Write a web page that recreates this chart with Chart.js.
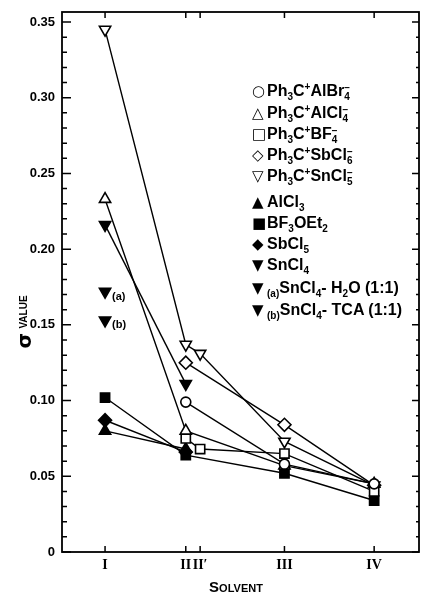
<!DOCTYPE html>
<html>
<head>
<meta charset="utf-8">
<script src="https://cdn.jsdelivr.net/npm/chart.js"></script>
<style>
  body { margin: 0; background: #fff; overflow: hidden; }
  #wrap { position: relative; width: 421px; height: 595px; }
  canvas { display: block; }
  .lbl { position: absolute; font-family: 'Liberation Sans', Arial, sans-serif; font-weight: bold; color: #000; white-space: nowrap; }
  #legend { left: 252px; top: 0; font-size: 16px; }
  #legend .row { position: absolute; left: 0; line-height: 18px; }
  #legend .mk { display: inline-block; width: 15px; font-family: 'DejaVu Sans', sans-serif; font-size: 15px; font-weight: normal; }
  sub, sup { font-size: 10px; line-height: 0; }
  .st { display: inline-block; vertical-align: middle; font-size: 10px; line-height: 9px; }
  #ytitle { left: -26px; top: 308px; width: 100px; height: 28px; line-height: 28px; text-align: center; transform: rotate(-90deg); }
  #xtitle { left: 186px; top: 578px; width: 100px; text-align: center; font-size: 15px; font-variant: small-caps; }
</style>
</head>
<body>
<div id="wrap">
  <canvas id="c" width="421" height="595"></canvas>
  <div id="legend" class="lbl">
    <div class="row" style="top:82px"><span class="mk">○</span>Ph<sub>3</sub>C<sup>+</sup>AlBr<span class="st">−<br>4</span></div>
    <div class="row" style="top:104px"><span class="mk">△</span>Ph<sub>3</sub>C<sup>+</sup>AlCl<span class="st">−<br>4</span></div>
    <div class="row" style="top:125px"><span class="mk">□</span>Ph<sub>3</sub>C<sup>+</sup>BF<span class="st">−<br>4</span></div>
    <div class="row" style="top:146px"><span class="mk">◇</span>Ph<sub>3</sub>C<sup>+</sup>SbCl<span class="st">−<br>6</span></div>
    <div class="row" style="top:167px"><span class="mk">▽</span>Ph<sub>3</sub>C<sup>+</sup>SnCl<span class="st">−<br>5</span></div>
    <div class="row" style="top:193px"><span class="mk">▲</span>AlCl<sub>3</sub></div>
    <div class="row" style="top:214px"><span class="mk">■</span>BF<sub>3</sub>OEt<sub>2</sub></div>
    <div class="row" style="top:235px"><span class="mk">◆</span>SbCl<sub>5</sub></div>
    <div class="row" style="top:256px"><span class="mk">▼</span>SnCl<sub>4</sub></div>
    <div class="row" style="top:279px"><span class="mk">▼</span><sub>(a)</sub>SnCl<sub>4</sub>- H<sub>2</sub>O (1:1)</div>
    <div class="row" style="top:301px"><span class="mk">▼</span><sub>(b)</sub>SnCl<sub>4</sub>- TCA (1:1)</div>
  </div>
  <div id="ytitle" class="lbl"><span style="font-size:20px;font-family:'DejaVu Sans',sans-serif">σ</span> <span style="font-size:10px;vertical-align:4px">VALUE</span></div>
  <div id="xtitle" class="lbl">Solvent</div>
</div>
<script>
// solvent positions on the x axis and their labels
const solventPos = [1, 1.9, 2.06, 3, 4];
const solventLabels = ['I', 'II', 'II\u2032', 'III', 'IV'];
const yTickValues = [0, 0.05, 0.10, 0.15, 0.20, 0.25, 0.30, 0.35];

// sigma values at I, II, II', III, IV (null = not measured)
const alBr4  = [null, 0.099, null, 0.058, 0.045];
const alCl4  = [0.233, 0.080, null, 0.057, 0.045];
const bf4    = [null, 0.075, 0.068, 0.065, 0.040];
const sbCl6  = [null, 0.125, null, 0.084, 0.044];
const snCl5  = [0.345, 0.137, 0.131, 0.073, 0.044];
const alCl3  = [0.080, 0.068, null, null, null];
const bf3OEt2 = [0.102, 0.064, null, 0.052, 0.034];
const sbCl5  = [0.087, 0.066, null, null, null];
const snCl4  = [0.216, 0.111, null, null, null];
const snCl4H2O = [0.172, null, null, null, null];
const snCl4TCA = [0.153, null, null, null, null];

function pts(vals) {
  return solventPos.map((x, i) => ({ x: x, y: vals[i] })).filter(p => p.y !== null);
}

const series = [
  { label: 'Ph3C+AlBr4-', vals: alBr4, style: 'circle', r: 5, fill: false },
  { label: 'Ph3C+AlCl4-', vals: alCl4, style: 'triangle', r: 6.5, fill: false },
  { label: 'Ph3C+BF4-', vals: bf4, style: 'rect', r: 6.5, fill: false },
  { label: 'Ph3C+SbCl6-', vals: sbCl6, style: 'rectRot', r: 6.5, fill: false },
  { label: 'Ph3C+SnCl5-', vals: snCl5, style: 'triangle', r: 6.5, fill: false, rot: 180 },
  { label: 'AlCl3', vals: alCl3, style: 'triangle', r: 6.5, fill: true },
  { label: 'BF3OEt2', vals: bf3OEt2, style: 'rect', r: 6.5, fill: true },
  { label: 'SbCl5', vals: sbCl5, style: 'rectRot', r: 6.5, fill: true },
  { label: 'SnCl4', vals: snCl4, style: 'triangle', r: 6.5, fill: true, rot: 180 },
  { label: '(a)', vals: snCl4H2O, style: 'triangle', r: 6.5, fill: true, rot: 180 },
  { label: '(b)', vals: snCl4TCA, style: 'triangle', r: 6.5, fill: true, rot: 180 },
];

const datasets = [];
series.forEach(s => {
  // line underneath
  datasets.push({ label: s.label + ' line', data: pts(s.vals), showLine: true, pointRadius: 0,
    borderColor: '#000', borderWidth: 1.4, order: 2 });
  // markers on top
  datasets.push({ label: s.label, data: pts(s.vals), showLine: false, pointStyle: s.style,
    pointRotation: s.rot || 0, pointRadius: s.r, backgroundColor: s.fill ? '#000' : '#fff',
    borderColor: '#000', pointBorderWidth: 1.6, order: 1 });
});

const frameTicks = {
  id: 'frameTicks',
  afterDraw(chart) {
    const { ctx, chartArea: a, scales: { x, y } } = chart;
    ctx.save();
    ctx.strokeStyle = '#000';
    ctx.lineWidth = 1.8;
    ctx.strokeRect(a.left, a.top, a.right - a.left, a.bottom - a.top);
    ctx.lineWidth = 1.5;
    ctx.beginPath();
    for (let k = 0; k <= 35; k++) {
      const py = y.getPixelForValue(k / 100);
      const major = k % 5 === 0;
      ctx.moveTo(a.left, py); ctx.lineTo(a.left + (major ? 9 : 5), py);
      ctx.moveTo(a.right, py); ctx.lineTo(a.right - (major ? 7 : 3), py);
    }
    solventPos.forEach(v => {
      const px = x.getPixelForValue(v);
      ctx.moveTo(px, a.top); ctx.lineTo(px, a.top + 6);
      ctx.moveTo(px, a.bottom); ctx.lineTo(px, a.bottom - 6);
    });
    ctx.stroke();
    // (a) / (b) tags beside the single points
    ctx.fillStyle = '#000';
    ctx.font = 'bold 11px "Liberation Sans", Arial, sans-serif';
    ctx.textBaseline = 'middle';
    chart.data.datasets.forEach((ds, i) => {
      if (ds.label === '(a)' || ds.label === '(b)') {
        const p = chart.getDatasetMeta(i).data[0];
        ctx.fillText(ds.label, p.x + 7, p.y + 5);
      }
    });
    ctx.restore();
  }
};

new Chart(document.getElementById('c'), {
  type: 'scatter',
  data: { datasets: datasets },
  options: {
    responsive: false,
    animation: false,
    layout: { autoPadding: false, padding: { top: 12, right: 2, left: 0, bottom: 0 } },
    plugins: { legend: { display: false }, tooltip: { enabled: false } },
    scales: {
      x: {
        type: 'linear', min: 0.52, max: 4.50,
        afterBuildTicks: (scale) => { scale.ticks = solventPos.map(v => ({ value: v })); },
        afterFit: (scale) => { scale.height = 43; },
        grid: { display: false, drawTicks: false },
        border: { display: false },
        ticks: {
          autoSkip: false, maxRotation: 0, padding: 5, color: '#000',
          font: { family: '"Liberation Serif", serif', weight: 'bold', size: 14 },
          callback: (v, i) => solventLabels[i]
        }
      },
      y: {
        min: 0, max: 0.3566,
        afterBuildTicks: (scale) => { scale.ticks = yTickValues.map(v => ({ value: v })); },
        afterFit: (scale) => { scale.width = 62; scale.paddingTop = 0; scale.paddingBottom = 0; },
        grid: { display: false, drawTicks: false },
        border: { display: false },
        ticks: {
          padding: 7, color: '#000',
          font: { family: '"Liberation Sans", Arial, sans-serif', weight: 'bold', size: 13 },
          callback: (v) => v === 0 ? '0' : v.toFixed(2)
        }
      }
    }
  },
  plugins: [frameTicks]
});
</script>
</body>
</html>
